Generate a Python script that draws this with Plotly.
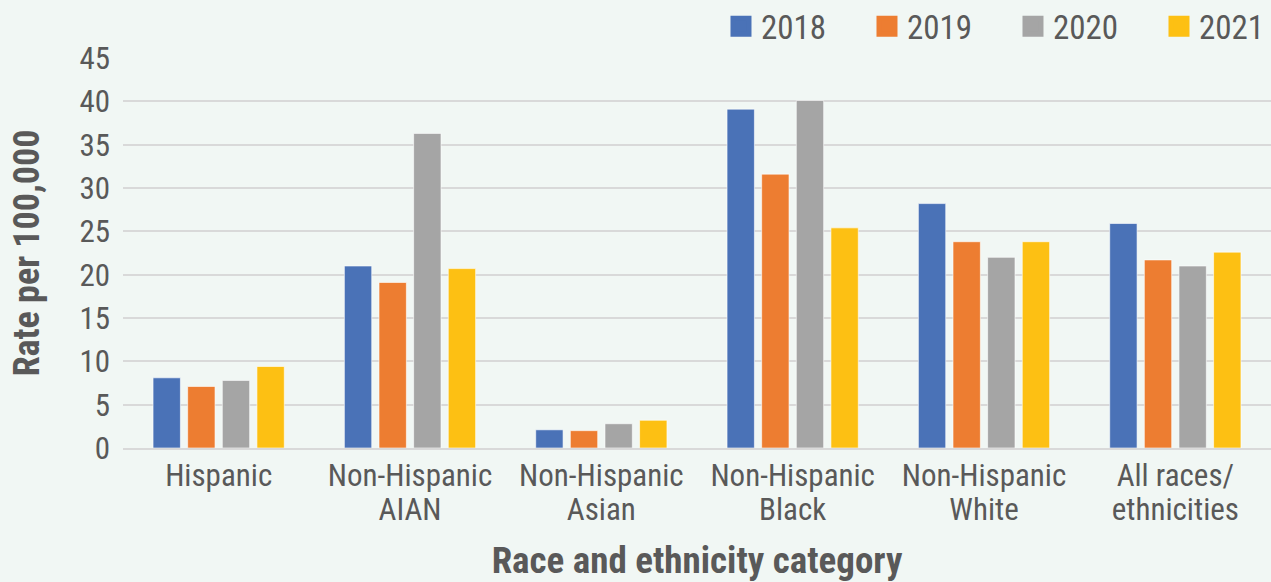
import plotly.graph_objects as go

# Rates per 100,000 by race/ethnicity, 2018-2021
categories = [
    "Hispanic",
    "Non-Hispanic<br>AIAN",
    "Non-Hispanic<br>Asian",
    "Non-Hispanic<br>Black",
    "Non-Hispanic<br>White",
    "All races/<br>ethnicities",
]
years = ["2018", "2019", "2020", "2021"]
rate_2018 = [8.1, 21.0, 2.1, 39.1, 28.2, 25.9]
rate_2019 = [7.1, 19.1, 2.0, 31.6, 23.8, 21.7]
rate_2020 = [7.8, 36.3, 2.8, 40.1, 22.0, 21.0]
rate_2021 = [9.4, 20.7, 3.2, 25.4, 23.8, 22.6]
y_ticks = [0, 5, 10, 15, 20, 25, 30, 35, 40, 45]

series = [rate_2018, rate_2019, rate_2020, rate_2021]
colors = ["#4A72B7", "#ED7D31", "#A5A5A5", "#FDC013"]

FONT = "Liberation Sans Narrow, Roboto Condensed, DejaVu Sans Condensed, sans-serif"
TEXT = "#595959"
BG = "#F1F7F4"
GRID = "#D9D9D9"

# Category labels: larger glyphs on a tighter line pitch
tick_labels = [
    "<br>".join(f'<span style="font-size:31px">{part}</span>' for part in c.split("<br>"))
    for c in categories
]

fig = go.Figure()
for year, vals, col in zip(years, series, colors):
    fig.add_trace(go.Bar(
        x=categories, y=vals, name=year, showlegend=False,
        marker=dict(color=col, line=dict(color="rgba(255,255,255,0.6)", width=1)),
    ))

# Large square swatches for the legend
for year, col in zip(years, colors):
    fig.add_trace(go.Scatter(
        x=[None], y=[None], mode="markers", name=year,
        marker=dict(symbol="square", size=16, color=col, line=dict(color=col, width=5)),
    ))

fig.update_layout(
    width=1271, height=582,
    margin=dict(l=123, r=0, t=58, b=134, autoexpand=False),
    paper_bgcolor=BG, plot_bgcolor=BG,
    barmode="group", bargap=0.276, bargroupgap=0.21,
    font=dict(family=FONT, color=TEXT, size=31),
    legend=dict(
        orientation="h", x=0.5209, xanchor="left", y=1.0816, yanchor="middle",
        font=dict(size=33, color=TEXT), bgcolor="rgba(0,0,0,0)",
        entrywidth=101, entrywidthmode="pixels",
        itemclick=False,
    ),
    xaxis=dict(
        tickmode="array", tickvals=categories, ticktext=tick_labels,
        tickfont=dict(size=25.8, color=TEXT),
        showgrid=False, showline=True, linecolor=GRID, linewidth=2,
        ticks="", ticklabelstandoff=5, automargin=False,
        title=dict(text="<b>Race and ethnicity category</b>",
                   font=dict(size=37, color=TEXT), standoff=30),
    ),
    yaxis=dict(
        range=[0, 45], tickvals=y_ticks,
        tickfont=dict(size=31, color=TEXT),
        showgrid=True, gridcolor=GRID, gridwidth=2,
        zeroline=False, ticks="", ticklabelstandoff=12, automargin=False,
        title=dict(text="<b>Rate per 100,000</b>",
                   font=dict(size=36, color=TEXT), standoff=28),
    ),
)

fig.write_html("out.html")
